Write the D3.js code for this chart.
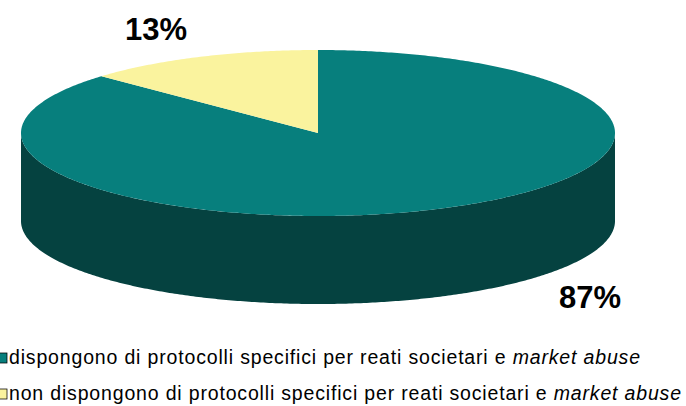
<!DOCTYPE html>
<html>
<head>
<meta charset="utf-8">
<script src="https://cdn.jsdelivr.net/npm/d3@7"></script>
<style>
  html, body { margin: 0; padding: 0; background: #fff; }
  svg { display: block; }
</style>
</head>
<body>
<svg id="chart" width="686" height="406"></svg>
<script>
// ---- data ----
const categories = [
  "dispongono di protocolli specifici per reati societari e",
  "non dispongono di protocolli specifici per reati societari e"
];
const categorySuffix = ["market abuse", "market abuse"];
const values = [87, 13];
const valueLabels = ["87%", "13%"];
const topColors = ["#077F7D", "#FAF39E"];
const sideColors = ["#054240", "#C9C27A"];

// ---- layout ----
const W = 686, H = 406;
const cx = 318, cy = 133, rx = 297, ry = 83, depth = 88;
const labelPos = [[590, 308], [156, 40]];
const legendY = [364, 400];
const legendEnd = [640, 681];

const svg = d3.select("#chart");

const pie = d3.pie().sort(null).value(d => d)(values);

function pt(a, dy) {
  return [cx + rx * Math.sin(a), cy - ry * Math.cos(a) + (dy || 0)];
}
function arcPoints(a0, a1, dy) {
  const n = Math.max(2, Math.ceil(Math.abs(a1 - a0) / 0.01));
  const out = [];
  for (let i = 0; i <= n; i++) out.push(pt(a0 + (a1 - a0) * i / n, dy));
  return out;
}
const line = d3.line();

// sides (front visible half: angles pi/2 .. 3pi/2)
const sideG = svg.append("g");
pie.forEach((p, i) => {
  const s = Math.max(p.startAngle, Math.PI / 2);
  const e = Math.min(p.endAngle, 3 * Math.PI / 2);
  if (e <= s) return;
  const top = arcPoints(s, e, 0);
  const bottom = arcPoints(e, s, depth);
  sideG.append("path")
    .attr("d", line(top.concat(bottom)) + "Z")
    .attr("fill", sideColors[i]);
});

// tops
const topG = svg.append("g");
pie.forEach((p, i) => {
  const pts = [[cx, cy]].concat(arcPoints(p.startAngle, p.endAngle, 0));
  topG.append("path")
    .attr("d", line(pts) + "Z")
    .attr("fill", topColors[i]);
});

// value labels
svg.append("g").selectAll("text")
  .data(pie)
  .join("text")
  .attr("x", (d, i) => labelPos[i][0])
  .attr("y", (d, i) => labelPos[i][1])
  .attr("text-anchor", "middle")
  .attr("font-family", "'Liberation Sans', Arial, sans-serif")
  .attr("font-weight", "bold")
  .attr("font-size", 31)
  .attr("fill", "#000")
  .text((d, i) => valueLabels[i]);

// legend
const leg = svg.append("g");
categories.forEach((c, i) => {
  leg.append("rect")
    .attr("x", -1).attr("y", legendY[i] - 11)
    .attr("width", 8).attr("height", 10)
    .attr("fill", topColors[i])
    .attr("stroke", "#000").attr("stroke-width", 0.75);
  const t = leg.append("text")
    .attr("x", 9).attr("y", legendY[i])
    .attr("font-family", "'Liberation Sans', Arial, sans-serif")
    .attr("font-size", 19.5)
    .attr("fill", "#000")
    .attr("textLength", legendEnd[i] - 9)
    .attr("lengthAdjust", "spacing");
  t.append("tspan").text(c + " ");
  t.append("tspan").attr("font-style", "italic").text(categorySuffix[i]);
});
</script>
</body>
</html>
